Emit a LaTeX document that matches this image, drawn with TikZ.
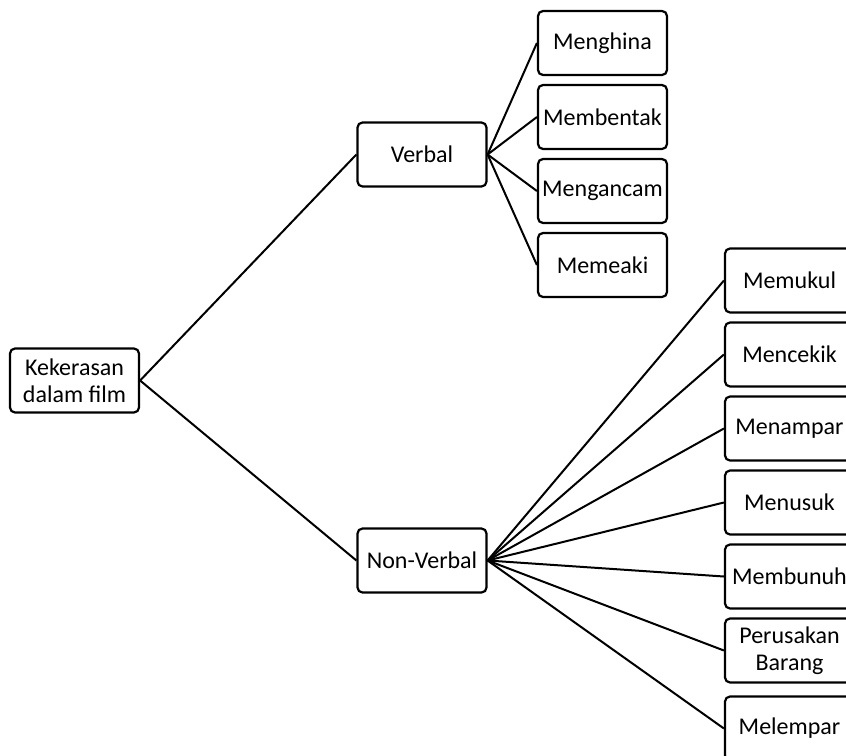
\documentclass[tikz,border=0pt]{standalone}
\usepackage{fontspec}
\setmainfont{Carlito}
\usepackage{tikz}
\usetikzlibrary{shapes,arrows,positioning}

\begin{document}
\begin{tikzpicture}[x=1pt, y=-1pt, node distance=74pt, thick]
        \tikzstyle{block} = [rectangle, draw, line width=2.2pt, fill=white, text centered, align=center, rounded corners=5pt, minimum height=64pt, minimum width=129pt, inner sep=0pt, font=\fontsize{24}{27}\selectfont]
        \tikzstyle{line} = [draw, line width=2pt]

        \useasboundingbox (0,0) rectangle (846,755);
        \clip (0,0) rectangle (846,755);

        \node [block] (root) at (74.5,380.5) {Kekerasan\\dalam film};
        \node [block] (verbal) at (422,154.5) {Verbal};
        \node [block] (nonverbal) at (422,560.5) {Non-Verbal};

        % Verbal
        \node [block] (menghina) at (602.5,43) {Menghina};
        \node [block, below of=menghina] (membentak) {Membentak};
        \node [block, below of=membentak] (mengancam) {Mengancam};
        \node [block, below of=mengancam] (memeaki) {Memeaki};

        % Non-Verbal
        \node [block] (memukul) at (789.5,280.5) {Memukul};
        \node [block, below of=memukul] (mencekik) {Mencekik};
        \node [block, below of=mencekik] (menampar) {Menampar};
        \node [block, below of=menampar] (menusuk) {Menusuk};
        \node [block, below of=menusuk] (membunuh) {Membunuh};
        \node [block, below of=membunuh] (perusakan) {Perusakan\\Barang};
        \node [block, below of=perusakan, node distance=78pt] (melempar) {Melempar};

        \path [line] (root.east) -- (verbal.west);
        \path [line] (root.east) -- (nonverbal.west);

        \path [line] (verbal.east) -- (menghina.west);
        \path [line] (verbal.east) -- (membentak.west);
        \path [line] (verbal.east) -- (mengancam.west);
        \path [line] (verbal.east) -- (memeaki.west);

        \path [line] (nonverbal.east) -- (memukul.west);
        \path [line] (nonverbal.east) -- (mencekik.west);
        \path [line] (nonverbal.east) -- (menampar.west);
        \path [line] (nonverbal.east) -- (menusuk.west);
        \path [line] (nonverbal.east) -- (membunuh.west);
        \path [line] (nonverbal.east) -- (perusakan.west);
        \path [line] (nonverbal.east) -- (melempar.west);
    \end{tikzpicture}
\end{document}
